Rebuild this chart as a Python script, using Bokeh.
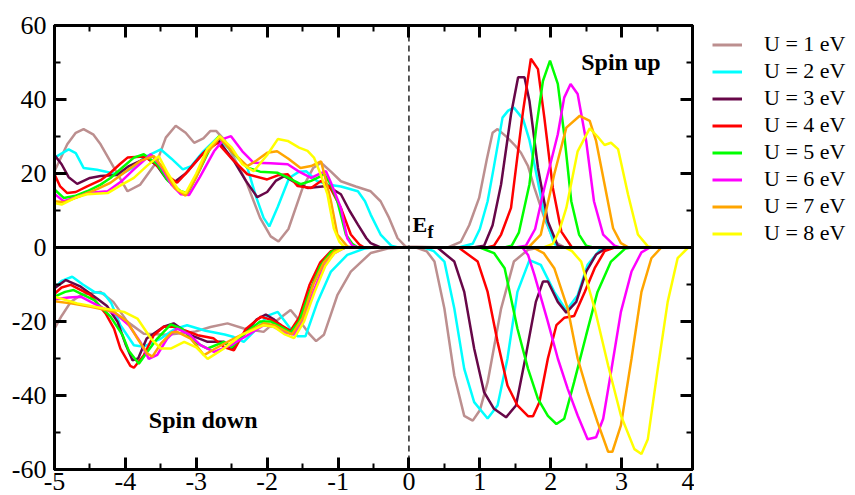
from bokeh.plotting import figure
from bokeh.layouts import row
from bokeh.models import (Range1d, LinearAxis, SingleIntervalTicker, Legend,
                          LegendItem, Span, Label, CustomJSTickFormatter)
from bokeh.embed import file_html
from bokeh.resources import INLINE

# Density of states, (energy [eV], DOS) pairs, spin up (>0) and spin down (<0)
U1_UP = [(-5, 20.6), (-4.82, 27.9), (-4.7, 31), (-4.59, 32), (-4.45, 30.5), (-4.35, 27.9),
         (-4.16, 21.5), (-3.97, 15.2), (-3.79, 17), (-3.55, 23.4), (-3.43, 29.7), (-3.29, 32.9),
         (-3.15, 31), (-3.03, 28.3), (-2.9, 29.5), (-2.8, 31.5), (-2.72, 31.5), (-2.6, 29),
         (-2.47, 24.3), (-2.3, 18), (-2.1, 8), (-1.95, 3), (-1.84, 1.6), (-1.7, 5), (-1.5, 16.1),
         (-1.35, 21.5), (-1.24, 22.9), (-1.1, 20.5), (-0.96, 17.9), (-0.75, 16.5), (-0.54, 15.2),
         (-0.4, 12.5), (-0.28, 8), (-0.16, 2.5), (-0.05, 0.3), (0.55, 0), (0.73, 1.5), (0.85, 6),
         (0.99, 13.4), (1.1, 24), (1.18, 31), (1.25, 32), (1.39, 29.7), (1.5, 27.5), (1.58, 25.6),
         (1.68, 22), (1.77, 16.1), (1.91, 8), (2.05, 1.6), (2.2, 0), (4, 0)]
U2_UP = [(-5, 24.3), (-4.8, 26.5), (-4.7, 25.5), (-4.59, 21.5), (-4.4, 21), (-4.21, 20.2),
         (-4.07, 19.7), (-3.9, 21.5), (-3.74, 24.3), (-3.5, 26.5), (-3.35, 24), (-3.19, 21.1),
         (-3.07, 22), (-2.9, 26), (-2.7, 29.7), (-2.5, 26), (-2.28, 21.6), (-2.16, 13.9),
         (-2.05, 8), (-1.97, 5.7), (-1.85, 11), (-1.69, 18.8), (-1.55, 20.5), (-1.45, 20.6),
         (-1.3, 18), (-1.15, 17), (-0.96, 16.5), (-0.72, 15.2), (-0.62, 12.5), (-0.54, 8.9),
         (-0.4, 3.5), (-0.25, 0.5), (-0.15, 0), (0.7, 0), (0.9, 1), (1.0, 5), (1.11, 12.5),
         (1.2, 22), (1.32, 35.1), (1.4, 37), (1.48, 37.8), (1.61, 34.7), (1.7, 29), (1.77, 22.5),
         (1.91, 8.9), (2.05, 1), (2.15, 0), (4, 0)]
U3_UP = [(-5, 25), (-4.9, 22.5), (-4.8, 19), (-4.68, 17.2), (-4.5, 18.8), (-4.35, 19.3),
         (-4.12, 19.6), (-3.95, 22), (-3.79, 23.4), (-3.7, 24.3), (-3.55, 22), (-3.42, 18.5),
         (-3.32, 17.5), (-3.15, 20), (-2.95, 24.5), (-2.8, 27.5), (-2.68, 28.8), (-2.47, 23.4),
         (-2.3, 18), (-2.14, 13.6), (-2.0, 15), (-1.88, 18), (-1.76, 19.3), (-1.6, 17.5),
         (-1.43, 16.1), (-1.15, 16.6), (-0.96, 14.4), (-0.84, 10), (-0.72, 6.2), (-0.6, 2.5),
         (-0.54, 1.2), (-0.4, 0), (0.9, 0), (1.06, 0.5), (1.18, 6), (1.3, 17.1), (1.44, 36),
         (1.54, 46), (1.63, 46), (1.7, 39.6), (1.82, 21.5), (1.96, 7), (2.1, 0.5), (2.2, 0), (4, 0)]
U4_UP = [(-5, 19.8), (-4.92, 16.5), (-4.82, 14.7), (-4.7, 15), (-4.54, 16.5), (-4.35, 18.2),
         (-4.21, 20.2), (-4.08, 22.5), (-3.97, 24.3), (-3.74, 24.6), (-3.6, 23), (-3.45, 20),
         (-3.27, 17.5), (-3.1, 21), (-2.9, 25.5), (-2.7, 28.3), (-2.5, 24), (-2.28, 19.8),
         (-2.0, 18.4), (-1.85, 19.5), (-1.71, 19.8), (-1.57, 16.6), (-1.38, 16.1), (-1.24, 18),
         (-1.12, 16.5), (-0.96, 10.7), (-0.82, 3.5), (-0.7, 0.8), (-0.63, 0), (1.1, 0), (1.2, 0.5),
         (1.3, 3.5), (1.44, 10.7), (1.61, 36.9), (1.72, 51), (1.82, 48.2), (1.91, 35.1),
         (2.03, 16.1), (2.15, 4.3), (2.3, 0), (4, 0)]
U5_UP = [(-5, 15.7), (-4.87, 13.4), (-4.7, 14), (-4.54, 15.2), (-4.35, 17), (-4.21, 18.8),
         (-4.05, 21.5), (-3.88, 24.3), (-3.74, 25.2), (-3.55, 22.5), (-3.4, 18), (-3.22, 15.2),
         (-3.12, 14.7), (-2.95, 21), (-2.8, 27), (-2.68, 30.1), (-2.5, 26), (-2.28, 21.6),
         (-2.1, 20.5), (-1.85, 20.2), (-1.7, 18.8), (-1.53, 17.1), (-1.38, 18), (-1.24, 19.3),
         (-1.2, 20), (-1.1, 17), (-1.01, 12.5), (-0.89, 3.5), (-0.8, 1), (-0.72, 0), (1.35, 0),
         (1.45, 0.5), (1.55, 4), (1.7, 17.1), (1.8, 33), (1.89, 45), (1.99, 50.5), (2.1, 44.2),
         (2.19, 30.6), (2.29, 12.5), (2.4, 3.5), (2.5, 0.5), (2.6, 0), (4, 0)]
U6_UP = [(-5, 14.5), (-4.87, 12.5), (-4.7, 13.5), (-4.54, 14.7), (-4.25, 15.2), (-4.05, 18),
         (-3.88, 21.1), (-3.64, 25.2), (-3.5, 22), (-3.35, 17), (-3.22, 14.4), (-3.1, 14.2),
         (-2.95, 19), (-2.75, 26), (-2.6, 29.5), (-2.51, 30.1), (-2.35, 26), (-2.19, 22.9),
         (-1.95, 22.8), (-1.71, 22.5), (-1.55, 20.5), (-1.38, 18.8), (-1.25, 20), (-1.17, 20.6),
         (-1.1, 17.5), (-0.96, 10.7), (-0.87, 2.5), (-0.8, 0.5), (-0.72, 0), (1.5, 0), (1.65, 0.5),
         (1.78, 5), (1.91, 16.1), (2.1, 30.6), (2.19, 40.5), (2.28, 44.2), (2.38, 41.5),
         (2.5, 28.8), (2.61, 12.5), (2.74, 3.5), (2.9, 0.5), (2.98, 0), (4, 0)]
U7_UP = [(-5, 12.5), (-4.87, 12.2), (-4.6, 14.2), (-4.4, 15.8), (-4.21, 17.5), (-4.0, 20.5),
         (-3.79, 23.4), (-3.6, 24.7), (-3.45, 21), (-3.3, 16), (-3.15, 14), (-3.0, 19),
         (-2.85, 25.5), (-2.67, 29.7), (-2.5, 26), (-2.28, 22), (-2.15, 23.5), (-2.0, 25.6),
         (-1.86, 26), (-1.7, 24), (-1.53, 21.5), (-1.38, 22), (-1.24, 23.3), (-1.17, 18),
         (-1.1, 12.5), (-1.01, 3.5), (-0.87, 0.3), (-0.8, 0), (1.6, 0), (1.7, 0.3), (1.86, 3.5),
         (2.05, 19.8), (2.22, 32.4), (2.41, 35.6), (2.55, 34.2), (2.64, 28.8), (2.76, 17),
         (2.88, 5.2), (2.99, 1.2), (3.1, 0), (4, 0)]
U8_UP = [(-5, 12), (-4.9, 11.6), (-4.7, 13.5), (-4.54, 14.4), (-4.25, 14.7), (-4.05, 17),
         (-3.88, 18.8), (-3.7, 22), (-3.53, 24.7), (-3.4, 20), (-3.25, 15.5), (-3.15, 14.7),
         (-3.0, 20), (-2.85, 26.5), (-2.67, 30.1), (-2.5, 27), (-2.35, 22.5), (-2.19, 20.6),
         (-2.0, 25), (-1.85, 29.3), (-1.71, 28.8), (-1.55, 27), (-1.43, 26.1), (-1.34, 24.3),
         (-1.25, 20), (-1.15, 14.4), (-1.06, 5.2), (-0.98, 1.5), (-0.92, 0.3), (-0.85, 0),
         (1.9, 0), (2.03, 1), (2.12, 4.5), (2.22, 10.7), (2.38, 26), (2.55, 32.2), (2.66, 30),
         (2.76, 27.7), (2.85, 28.3), (2.95, 26.6), (3.09, 14.4), (3.23, 3.5), (3.37, 0.3),
         (3.45, 0), (4, 0)]

U1_DN = [(-5, -21.9), (-4.9, -18.5), (-4.77, -14.7), (-4.63, -12.9), (-4.45, -12.2), (-4.35, -12),
         (-4.17, -14.7), (-3.97, -20.1), (-3.74, -23.3), (-3.41, -23.6), (-3.03, -22.8),
         (-2.8, -21.5), (-2.56, -20.5), (-2.33, -21.9), (-2.05, -22.8), (-1.85, -19.5),
         (-1.67, -16.9), (-1.53, -20.1), (-1.4, -23.5), (-1.31, -25.3), (-1.2, -23.6), (-1.1, -18),
         (-1.01, -12.9), (-0.82, -6.5), (-0.54, -1.5), (-0.3, -0.3), (-0.1, 0), (0.1, 0),
         (0.25, -1), (0.36, -3.8), (0.5, -16.5), (0.64, -34.6), (0.78, -45.5), (0.9, -46.8),
         (1.0, -44), (1.11, -36.4), (1.3, -16.5), (1.48, -3.8), (1.68, -0.6), (1.85, 0), (4, 0)]
U2_DN = [(-5, -11), (-4.9, -9), (-4.75, -7.9), (-4.6, -10), (-4.44, -12), (-4.3, -12.5),
         (-4.2, -15), (-4.07, -21), (-3.88, -26.4), (-3.74, -26.8), (-3.5, -24.6), (-3.3, -22),
         (-3.13, -21), (-2.87, -22.5), (-2.6, -23.5), (-2.47, -24.2), (-2.33, -25.5), (-2.15, -22),
         (-2.0, -18.5), (-1.85, -17.4), (-1.69, -21.5), (-1.57, -24), (-1.46, -24), (-1.29, -14.7),
         (-1.1, -6.5), (-0.87, -2), (-0.63, -0.3), (-0.5, 0), (0.21, 0), (0.35, -1), (0.5, -3.8),
         (0.64, -16.5), (0.78, -32.8), (0.92, -41.8), (1.11, -46.2), (1.25, -42.7), (1.39, -30),
         (1.53, -12), (1.7, -3.4), (1.86, -4.7), (2.05, -12), (2.22, -17), (2.38, -12.9),
         (2.52, -4.7), (2.7, -0.5), (2.8, 0), (4, 0)]
U3_DN = [(-5, -11), (-4.84, -8.8), (-4.63, -10.6), (-4.4, -13.8), (-4.26, -15.8), (-4.11, -20.1),
         (-4.0, -26), (-3.9, -30.5), (-3.82, -30), (-3.7, -24.6), (-3.46, -21.4), (-3.32, -20.5),
         (-3.08, -23.7), (-2.84, -25.5), (-2.61, -25.5), (-2.5, -27.5), (-2.33, -23.5),
         (-2.15, -19.5), (-2.02, -18.1), (-1.9, -19.5), (-1.75, -22), (-1.67, -23), (-1.55, -20),
         (-1.4, -12), (-1.25, -5), (-1.1, -1.5), (-0.9, 0), (0.4, 0), (0.64, -3.8), (0.78, -12),
         (0.92, -27.3), (1.06, -39.1), (1.2, -43.6), (1.37, -45.9), (1.51, -42.7), (1.65, -29.1),
         (1.79, -14.7), (1.89, -9.2), (1.96, -9.2), (2.1, -14.7), (2.22, -17.6), (2.36, -14.7),
         (2.5, -6.5), (2.64, -1.9), (2.8, 0), (4, 0)]
U4_DN = [(-5, -12.5), (-4.9, -10.8), (-4.77, -10.1), (-4.49, -12.9), (-4.28, -17.8), (-4.16, -21.9),
         (-4.07, -27.3), (-3.93, -32), (-3.88, -32.5), (-3.74, -29.1), (-3.6, -23.7), (-3.46, -21.4),
         (-3.32, -21.4), (-3.15, -22.5), (-2.98, -23.7), (-2.76, -24.5), (-2.6, -27), (-2.47, -27.8),
         (-2.3, -22), (-2.09, -18.7), (-1.95, -19.5), (-1.8, -21), (-1.67, -22.5), (-1.55, -19),
         (-1.4, -10), (-1.25, -4), (-1.1, -1), (-0.95, 0), (0.7, 0), (0.97, -3.8), (1.11, -12),
         (1.25, -25.5), (1.39, -37.3), (1.53, -42.7), (1.68, -45.6), (1.75, -45.6), (1.84, -41.8),
         (1.96, -30), (2.08, -21), (2.19, -19), (2.33, -18.5), (2.48, -12), (2.62, -5.6),
         (2.76, -1), (2.9, 0), (4, 0)]
U5_DN = [(-5, -13.3), (-4.85, -12), (-4.73, -11.5), (-4.44, -14.2), (-4.21, -18.7), (-4.04, -23.7),
         (-3.95, -28), (-3.81, -31.4), (-3.69, -28.2), (-3.55, -24.6), (-3.36, -20.8), (-3.2, -22),
         (-3.03, -25.5), (-2.84, -27.3), (-2.61, -25.5), (-2.5, -27), (-2.3, -23), (-2.1, -20),
         (-1.95, -20), (-1.8, -21.5), (-1.67, -23), (-1.55, -20), (-1.4, -12), (-1.25, -5),
         (-1.1, -1.2), (-0.95, 0), (1.0, 0), (1.2, -1.5), (1.35, -5.6), (1.53, -21.9),
         (1.68, -32.8), (1.82, -40.9), (1.96, -45.5), (2.08, -47.7), (2.19, -46.3), (2.33, -36.4),
         (2.5, -23.7), (2.66, -12), (2.85, -3.8), (3.05, -0.3), (3.15, 0), (4, 0)]
U6_DN = [(-5, -14), (-4.8, -13.5), (-4.63, -13.3), (-4.4, -15.6), (-4.11, -18.3), (-3.95, -21),
         (-3.79, -25.5), (-3.67, -30.1), (-3.55, -29), (-3.41, -24.6), (-3.27, -21.9), (-3.1, -23.5),
         (-2.94, -26.4), (-2.75, -28.2), (-2.51, -26.4), (-2.3, -24), (-2.05, -21), (-1.9, -21.5),
         (-1.75, -23), (-1.62, -23.5), (-1.5, -20), (-1.35, -12), (-1.2, -5), (-1.05, -1.5),
         (-0.9, 0), (1.6, 0), (1.68, -2), (1.77, -7.4), (1.96, -20.1), (2.1, -30), (2.24, -38.2),
         (2.38, -45.4), (2.52, -51.8), (2.64, -51.3), (2.74, -46.3), (2.85, -33.7), (2.99, -17.4),
         (3.14, -6.5), (3.28, -1.3), (3.4, 0), (4, 0)]
U7_DN = [(-5, -14.5), (-4.77, -15.1), (-4.49, -16), (-4.16, -17.4), (-3.97, -20.1), (-3.83, -24.6),
         (-3.69, -28.7), (-3.62, -29.5), (-3.5, -26), (-3.35, -23), (-3.27, -22.8), (-3.08, -24.6),
         (-2.89, -29.1), (-2.75, -27.5), (-2.51, -25), (-2.3, -23), (-2.05, -20.5), (-1.9, -21),
         (-1.75, -22.5), (-1.65, -23.5), (-1.5, -19), (-1.35, -10), (-1.2, -4), (-1.05, -1),
         (-0.9, 0), (1.75, 0), (1.9, -1.5), (2.05, -5.6), (2.24, -16.5), (2.38, -30), (2.52, -39.1),
         (2.66, -47.2), (2.81, -55.2), (2.87, -55.2), (2.99, -48.1), (3.14, -30), (3.28, -12),
         (3.42, -2.9), (3.56, 0), (4, 0)]
U8_DN = [(-5, -13.3), (-4.68, -15.1), (-4.3, -16.5), (-4.02, -17.4), (-3.83, -19.2), (-3.64, -24.6),
         (-3.5, -27.3), (-3.36, -27.3), (-3.17, -25.5), (-3.0, -27), (-2.84, -30.1), (-2.61, -27.3),
         (-2.37, -23.7), (-2.05, -21), (-1.9, -21.5), (-1.75, -23.5), (-1.62, -24.5), (-1.48, -20),
         (-1.33, -12), (-1.18, -5), (-1.05, -1.5), (-0.9, 0), (2.2, 0), (2.3, -1), (2.43, -3.8),
         (2.62, -16.5), (2.81, -31.9), (2.99, -45.4), (3.18, -54.5), (3.28, -55.8), (3.37, -51.8),
         (3.51, -32.8), (3.65, -14.7), (3.79, -2.9), (3.94, 0), (4, 0)]

LABELS = ["U = 1 eV", "U = 2 eV", "U = 3 eV", "U = 4 eV",
          "U = 5 eV", "U = 6 eV", "U = 7 eV", "U = 8 eV"]
COLORS = ["#bc8f8f", "#00ffff", "#670748", "#ff0000",
          "#00ff00", "#ff00ff", "#ffa500", "#ffff00"]
SPIN_UP = [U1_UP, U2_UP, U3_UP, U4_UP, U5_UP, U6_UP, U7_UP, U8_UP]
SPIN_DN = [U1_DN, U2_DN, U3_DN, U4_DN, U5_DN, U6_DN, U7_DN, U8_DN]

SERIF = "Liberation Serif"
H = 495
W_MAIN = 694

p = figure(width=W_MAIN, height=H, output_backend="svg", toolbar_location=None,
           x_range=Range1d(-5, 4), y_range=Range1d(-60, 60),
           min_border_left=54, min_border_right=2, min_border_top=25, min_border_bottom=26)
p.grid.visible = False
p.outline_line_color = "black"
p.outline_line_width = 3
p.background_fill_color = "white"
p.border_fill_color = "white"

blank = CustomJSTickFormatter(code="return '';")
plain = CustomJSTickFormatter(code="return String(tick);")


def style_axis(ax, labels=True):
    ax.axis_line_width = 3
    ax.major_tick_in = 12
    ax.major_tick_out = 0
    ax.minor_tick_in = 6
    ax.minor_tick_out = 0
    ax.major_tick_line_width = 3
    ax.minor_tick_line_width = 2
    ax.major_label_text_font = SERIF
    ax.major_label_text_color = "black"
    ax.major_label_text_font_size = "26px"
    if labels:
        ax.formatter = plain
        ax.major_label_standoff = 3
    else:
        ax.formatter = blank
        ax.major_label_standoff = 0


p.xaxis.ticker = SingleIntervalTicker(interval=1, num_minor_ticks=2)
p.yaxis.ticker = SingleIntervalTicker(interval=20, num_minor_ticks=2)
style_axis(p.xaxis[0])
style_axis(p.yaxis[0])
p.yaxis[0].major_label_standoff = 8

top = LinearAxis(ticker=SingleIntervalTicker(interval=1, num_minor_ticks=2))
style_axis(top, labels=False)
p.add_layout(top, "above")
right = LinearAxis(ticker=SingleIntervalTicker(interval=20, num_minor_ticks=2))
style_axis(right, labels=False)
p.add_layout(right, "right")

for col, up, dn in zip(COLORS, SPIN_UP, SPIN_DN):
    p.line([e for e, _ in up], [d for _, d in up], line_color=col, line_width=2.5)
    p.line([e for e, _ in dn], [d for _, d in dn], line_color=col, line_width=2.5)

# zero line and Fermi level
p.add_layout(Span(location=0, dimension="width", line_color="black", line_width=3))
p.add_layout(Span(location=0, dimension="height", line_color="black", line_width=1.3,
                  line_dash="6 4"))

p.add_layout(Label(x=2.43, y=50.2, text="Spin up", text_font=SERIF, text_font_style="bold",
                   text_font_size="24px", text_baseline="alphabetic", text_color="black"))
p.add_layout(Label(x=-3.67, y=-46.7, text="Spin down", text_font=SERIF, text_font_style="bold",
                   text_font_size="24px", text_baseline="alphabetic", text_color="black"))
p.add_layout(Label(x=0.05, y=6.2, text="E", text_font=SERIF, text_font_style="bold",
                   text_font_size="22px", text_baseline="alphabetic", text_color="black"))
p.add_layout(Label(x=0.26, y=4.3, text="f", text_font=SERIF, text_font_style="bold",
                   text_font_size="18px", text_baseline="alphabetic", text_color="black"))

# key panel to the right of the plot
key = figure(width=855 - W_MAIN, height=H, output_backend="svg", toolbar_location=None,
             x_range=Range1d(0, 1), y_range=Range1d(0, 1),
             x_axis_location=None, y_axis_location=None,
             min_border=0, outline_line_color=None)
key.grid.visible = False
key_items = []
for lab, col in zip(LABELS, COLORS):
    # one point outside the view: the renderer only supplies the key swatch
    r = key.line(x=[5], y=[5], line_color=col, line_width=3)
    key_items.append(LegendItem(label=lab, renderers=[r]))

legend = Legend(items=key_items, location=(13, 218), label_text_font=SERIF,
                label_text_font_size="22px", label_text_color="black",
                glyph_width=30, glyph_height=25, label_height=25, spacing=1,
                label_standoff=22, padding=5, margin=0,
                border_line_alpha=0, background_fill_alpha=0)
key.add_layout(legend)

open("out.html", "w").write(file_html(row(p, key), INLINE))
